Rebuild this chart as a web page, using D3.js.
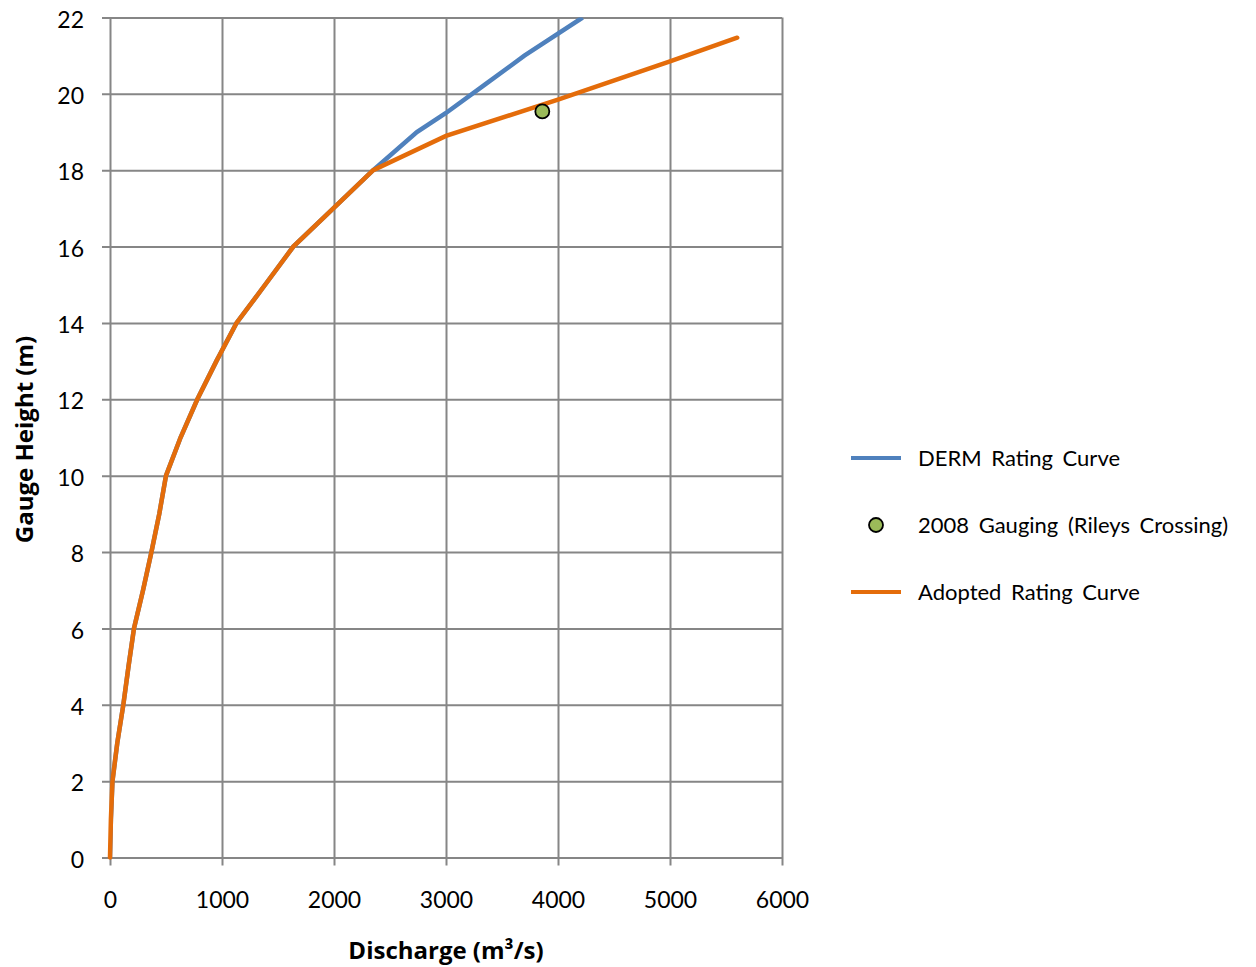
<!DOCTYPE html>
<html>
<head>
<meta charset="utf-8">
<style>
  body { margin: 0; background: #fff; }
  text { font-family: Lato, "Open Sans", sans-serif; fill: #000; }
  .tick text { font-size: 23px; }
  .grid line { stroke: #868686; stroke-width: 2px; }
  .title { font-family: "Open Sans", sans-serif; font-size: 24px; font-weight: bold; }
  .legend text { font-size: 22px; word-spacing: 4px; }
</style>
</head>
<body>
<div id="chart"></div>
<script src="https://cdnjs.cloudflare.com/ajax/libs/d3/7.8.5/d3.min.js"></script>
<script>

// DERM rating curve (discharge m3/s, gauge height m)
var dermQ = [0, 8, 22, 65, 119, 165, 214, 295, 370, 440, 500, 630, 780, 950, 1130, 1385, 1637, 1994, 2350, 2740, 3000, 3350, 3700, 4220];
var dermH = [0, 1, 2, 3, 4, 5, 6, 7, 8, 9, 10, 11, 12, 13, 14, 15, 16, 17, 18, 19, 19.5, 20.25, 21, 22];

// adopted rating curve
var adoptQ = [0, 8, 22, 65, 119, 165, 214, 295, 370, 440, 500, 630, 780, 950, 1130, 1385, 1637, 1994, 2350, 3000, 4000, 5000, 5600];
var adoptH = [0, 1, 2, 3, 4, 5, 6, 7, 8, 9, 10, 11, 12, 13, 14, 15, 16, 17, 18, 18.9, 19.85, 20.85, 21.47];

// 2008 gauging at Rileys Crossing
var gaugeQ = [3860];
var gaugeH = [19.54];

var xTicks = [0, 1000, 2000, 3000, 4000, 5000, 6000];
var yTicks = [0, 2, 4, 6, 8, 10, 12, 14, 16, 18, 20, 22];

var legendLabels = ["DERM Rating Curve", "2008 Gauging (Rileys Crossing)", "Adopted Rating Curve"];

var margin = {top: 17.5, right: 474, bottom: 109.5, left: 110},
    width = 1256 - margin.left - margin.right,
    height = 967 - margin.top - margin.bottom;

var x = d3.scaleLinear().domain([0, 6000]).range([0, width]);
var y = d3.scaleLinear().domain([0, 22]).range([height, 0]);

var svg = d3.select("#chart").append("svg")
    .attr("width", 1256)
    .attr("height", 967)
  .append("g")
    .attr("transform", "translate(" + margin.left + "," + margin.top + ")");

// gridlines, each with a short tick outside the plot
svg.append("g")
    .attr("class", "grid")
    .attr("transform", "translate(0," + height + ")")
    .call(d3.axisBottom(x).tickValues(xTicks).tickSize(-height).tickSizeOuter(0).tickPadding(0).tickFormat(d3.format("d")))
    .call(function(g) { g.select(".domain").remove(); })
    .call(function(g) { g.selectAll(".tick line").attr("y1", 8).attr("y2", -height); })
    .call(function(g) { g.selectAll(".tick text").attr("y", 50).attr("dy", 0); });

svg.append("g")
    .attr("class", "grid")
    .call(d3.axisLeft(y).tickValues(yTicks).tickSize(-width).tickSizeOuter(0).tickPadding(26))
    .call(function(g) { g.select(".domain").remove(); })
    .call(function(g) { g.selectAll(".tick line").attr("x1", -8).attr("x2", width); })
    .call(function(g) { g.selectAll(".tick text").attr("dy", "0.42em"); });

svg.selectAll(".grid .tick line").attr("stroke", "#868686");

var line = d3.line()
    .x(function(d) { return x(d[0]); })
    .y(function(d) { return y(d[1]); });

svg.append("defs").append("clipPath")
    .attr("id", "clip")
  .append("rect")
    .attr("width", width)
    .attr("height", height);

svg.append("path")
    .datum(d3.zip(dermQ, dermH))
    .attr("clip-path", "url(#clip)")
    .attr("fill", "none")
    .attr("stroke", "#4F81BD")
    .attr("stroke-width", 4.5)
    .attr("d", line);

svg.append("path")
    .datum(d3.zip(adoptQ, adoptH))
    .attr("fill", "none")
    .attr("stroke", "#E46C0A")
    .attr("stroke-width", 4.5)
    .attr("stroke-linecap", "round")
    .attr("d", line);

svg.selectAll(".gauge")
    .data(d3.zip(gaugeQ, gaugeH))
  .enter().append("circle")
    .attr("class", "gauge")
    .attr("cx", function(d) { return x(d[0]); })
    .attr("cy", function(d) { return y(d[1]); })
    .attr("r", 7)
    .attr("fill", "#9BBB59")
    .attr("stroke", "#000")
    .attr("stroke-width", 1.8);

// axis titles
svg.append("text")
    .attr("class", "title")
    .attr("x", x(3000))
    .attr("y", height + 101)
    .attr("text-anchor", "middle")
    .text("Discharge (m³/s)");

svg.append("text")
    .attr("class", "title")
    .attr("transform", "translate(" + (-77) + "," + (y(11) + 2) + ") rotate(-90)")
    .attr("text-anchor", "middle")
    .text("Gauge Height (m)");

// legend
var legend = d3.select("svg").append("g")
    .attr("class", "legend")
    .attr("transform", "translate(851,458)");

var item = legend.selectAll("g")
    .data(legendLabels)
  .enter().append("g")
    .attr("transform", function(d, i) { return "translate(0," + i * 67 + ")"; });

item.filter(function(d, i) { return i !== 1; })
  .append("line")
    .attr("x1", 0)
    .attr("x2", 50)
    .attr("stroke", function(d, i) { return i === 0 ? "#4F81BD" : "#E46C0A"; })
    .attr("stroke-width", 4);

item.filter(function(d, i) { return i === 1; })
  .append("circle")
    .attr("cx", 25)
    .attr("r", 7)
    .attr("fill", "#9BBB59")
    .attr("stroke", "#000")
    .attr("stroke-width", 1.8);

item.append("text")
    .attr("x", 67)
    .attr("dy", "0.36em")
    .text(function(d) { return d; });

</script>
</body>
</html>
